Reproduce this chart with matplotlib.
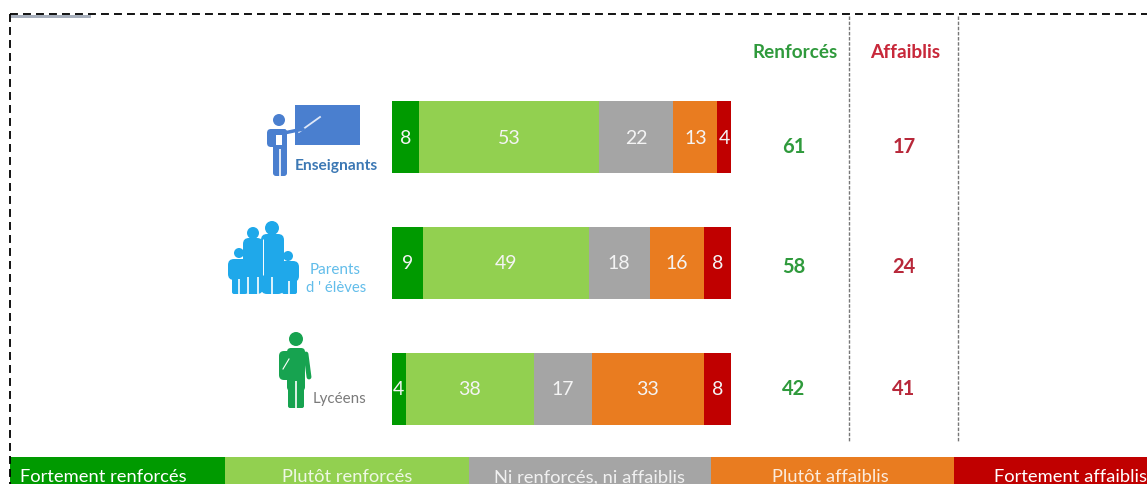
import matplotlib
matplotlib.use("Agg")
import matplotlib.pyplot as plt
from matplotlib.patches import Circle, FancyBboxPatch, Rectangle

W, H = 1147, 485
FONT = "Lato"
plt.rcParams["font.family"] = [FONT, "DejaVu Sans"]

groups = ["Enseignants", "Parents d'élèves", "Lycéens"]
fort_renf = [8, 9, 4]
plutot_renf = [53, 49, 38]
ni_ni = [22, 18, 17]
plutot_aff = [13, 16, 33]
fort_aff = [4, 8, 8]
renforces = [61, 58, 42]
affaiblis = [17, 24, 41]
series_labels = ["Fortement renforcés", "Plutôt renforcés",
                 "Ni renforcés, ni affaiblis", "Plutôt affaiblis",
                 "Fortement affaiblis"]
colors = ["#009a00", "#92d050", "#a5a5a5", "#e97c20", "#c00000"]

fig = plt.figure(figsize=(W / 100, H / 100), dpi=100, facecolor="white")

# Overlay in pixel coordinates (frame, icons, legend band, summary columns)
ov = fig.add_axes([0, 0, 1, 1])
ov.set_xlim(0, W)
ov.set_ylim(H, 0)
ov.axis("off")

# Bars: axes spans pixel range x 392-731, y 102-426
bx0, bx1, by0, by1 = 392, 731, 102, 426
ax = fig.add_axes([bx0 / W, 1 - by1 / H, (bx1 - bx0) / W, (by1 - by0) / H])
ax.patch.set_alpha(0)
ax.axis("off")
ax.set_xlim(0, 100)
ax.set_ylim(2.286, -0.286)
series = [fort_renf, plutot_renf, ni_ni, plutot_aff, fort_aff]
left = [0, 0, 0]
for vals, c in zip(series, colors):
    ax.barh(range(3), vals, left=left, color=c, height=0.571, linewidth=0)
    for i, v in enumerate(vals):
        ax.text(left[i] + v / 2, i, str(v), color="#f4f4f4", ha="center",
                va="center", fontsize=14)
    left = [a + b for a, b in zip(left, vals)]

# Dashed frame
dash = dict(color="black", lw=1.3, linestyle=(0, (4.4, 2.8)))
ov.plot([10, W], [15, 15], **dash)
ov.plot([10, 10], [15, H], **dash)
ov.add_patch(Rectangle((11, 15.5), 80, 3, color="#8a94a6", alpha=.75, lw=0))

# Summary columns
for x in (849, 958):
    ov.plot([x, x], [17, 443], color="#777777", lw=1, linestyle=(0, (2.5, 1.2)))
ov.text(795, 52, "Renforcés", color="#2f9a3c", ha="center", va="center",
        fontsize=13.6, fontweight="bold")
ov.text(905, 52, "Affaiblis", color="#c8283a", ha="center", va="center",
        fontsize=13.8, fontweight="bold")
for y, r, a in zip((146, 266, 388), renforces, affaiblis):
    ov.text(794, y + 1, str(r), color="#2f9a3c", ha="center", va="center",
            fontsize=14.5, fontweight="bold")
    ov.text(904, y + 1, str(a), color="#b8283a", ha="center", va="center",
            fontsize=14.5, fontweight="bold")

# Legend band
edges = [10, 225, 469, 711, 954, W]
text_x = [20, 347, 590, 830, 994]
for i, lab in enumerate(series_labels):
    ov.add_patch(Rectangle((edges[i], 458), edges[i + 1] - edges[i], H - 458,
                           color=colors[i], lw=0))
    t = ov.text(text_x[i], 477.5, lab, color="white", va="center",
                ha="left" if i in (0, 4) else "center", fontsize=13.2,
                alpha=1 if i in (0, 4) else .85)
    t.set_clip_on(True)


def rbox(x0, y0, x1, y1, c, r=3):
    ov.add_patch(FancyBboxPatch((x0 + r, y0 + r), x1 - x0 - 2 * r, y1 - y0 - 2 * r,
                                boxstyle=f"round,pad={r},rounding_size={r}",
                                fc=c, ec="none"))


def disc(x, y, r, c):
    ov.add_patch(Circle((x, y), r, fc=c, ec="none"))


def slit(x, y0, y1, w=1.2):
    ov.plot([x, x], [y0, y1], color="white", lw=w, solid_capstyle="butt")


# Teacher icon
T = "#4a7fcf"
ov.add_patch(Rectangle((295, 106), 65, 40, fc=T, ec="none"))
ov.plot([299, 320], [133, 118], color="#dfe8f8", lw=1.3)
disc(279, 121, 6, T)
rbox(267, 130, 287, 148, T, 4)
rbox(273, 130, 287, 177, T, 3)
ov.plot([284, 303], [134, 130], color=T, lw=2.5, solid_capstyle="round")
ov.add_patch(Rectangle((276, 136), 6, 10, fc="white", ec="none"))
slit(280, 150, 177)
ov.text(295, 166, "Enseignants", color="#3c78b4", va="center",
        fontsize=11.2, fontweight="bold")

# Family icon
F = "#1fa8ea"
disc(272, 229, 7, F)
disc(253, 234, 6, F)
disc(239, 254, 5, F)
disc(288, 257, 5, F)
rbox(243, 239, 263, 295, F, 6)
rbox(261, 235, 284, 295, F, 6)
rbox(228, 260, 250, 281, F, 6)
rbox(232, 261, 247, 295, F, 2)
rbox(279, 262, 299, 283, F, 6)
rbox(282, 263, 297, 295, F, 2)
for x, y in ((239, 280), (248, 278), (258, 278), (272, 278), (289, 282)):
    slit(x, y, 295)
slit(263, 240, 276, 0.7)
ov.text(335, 270, "Parents", color="#62bdea", ha="center", va="center", fontsize=11)
ov.text(336, 288, "d ' élèves", color="#62bdea", ha="center", va="center", fontsize=10.7)

# Student icon
S = "#17a350"
disc(296, 340, 7, S)
rbox(279, 352, 292, 381, S, 5)
rbox(287, 349, 305, 392, S, 4)
ov.plot([306, 309], [355, 378], color=S, lw=3.5, solid_capstyle="round")
rbox(288, 385, 304, 409, S, 2)
slit(296, 382, 409)
ov.plot([283, 289], [370, 360], color="white", lw=0.8)
ov.text(340, 399.5, "Lycéens", color="#7a7a7a", ha="center", va="center", fontsize=10.9)

fig.savefig("out.png", dpi=100)
